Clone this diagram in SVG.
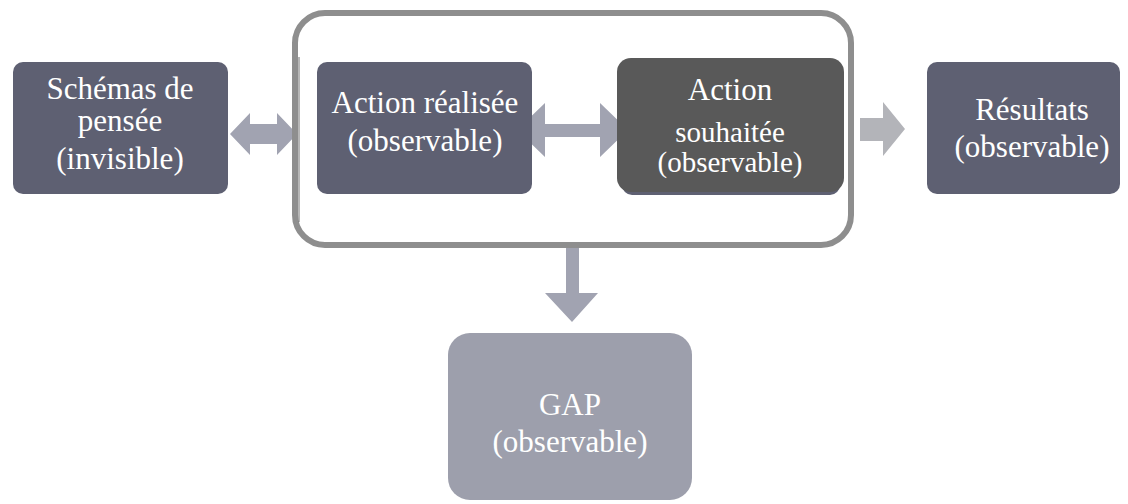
<svg xmlns="http://www.w3.org/2000/svg" width="1128" height="504" viewBox="0 0 1128 504">
  <style>
    .box { fill: #5e6072; }
    .dark { fill: #595959; }
    .gap { fill: #9d9fac; }
    .arrow { fill: #a1a3b1; }
    .arrow-light { fill: #b3b4b9; }
    .frame { fill: none; stroke: #8e8e8e; stroke-width: 6; }
    .label { font-family: "Liberation Serif", "Times New Roman", "DejaVu Serif", serif; fill: #ffffff; text-anchor: middle; font-size: 31px; }
    .small { font-size: 29px; }
  </style>
  <rect width="1128" height="504" fill="#ffffff"/>

  <g id="connectors">
    <!-- double arrow: thought schemas <-> performed action -->
    <polygon class="arrow" points="230,134 250,113 250,124 277,124 277,113 297,134 277,155 277,144 250,144 250,155"/>
    <!-- double arrow: performed action <-> desired action -->
    <polygon class="arrow" points="517,130 545,103 545,124 600,124 600,103 628,130 600,157 600,137 545,137 545,157"/>
    <!-- arrow to results -->
    <polygon class="arrow-light" points="860,118 883,118 883,102 905,129 883,156 883,141 860,141"/>
    <!-- arrow down to the gap -->
    <polygon class="arrow" points="566,243 579,243 579,293 598,293 572,322 545,293 566,293"/>
  </g>

  <!-- frame grouping the two observable actions -->
  <g id="frame">
    <rect class="frame" x="295" y="13" width="556" height="232" rx="30"/>
    <line x1="299" y1="57" x2="299" y2="222" stroke="#6e6e6e" stroke-width="1"/>
  </g>

  <g id="schemas" class="label">
    <rect class="box" x="13" y="62" width="215" height="132" rx="10"/>
    <text x="120" y="99">Schémas de</text>
    <text x="120" y="131">pensée</text>
    <text x="120" y="169">(invisible)</text>
  </g>

  <g id="action-realisee" class="label">
    <rect class="box" x="317" y="62" width="215" height="132" rx="10"/>
    <text x="425" y="113">Action réalisée</text>
    <text x="425" y="151">(observable)</text>
  </g>

  <g id="action-souhaitee" class="label">
    <rect class="box" x="622" y="62" width="218" height="133" rx="10"/>
    <rect class="dark" x="617" y="58" width="227" height="134" rx="14"/>
    <text x="730" y="100">Action</text>
    <text class="small" x="730" y="142">souhaitée</text>
    <text class="small" x="730" y="172">(observable)</text>
  </g>

  <g id="resultats" class="label">
    <rect class="box" x="927" y="62" width="193" height="132" rx="10"/>
    <text x="1032" y="120">Résultats</text>
    <text x="1032" y="157">(observable)</text>
  </g>

  <g id="gap" class="label">
    <rect class="gap" x="448" y="333" width="244" height="167" rx="22"/>
    <text x="570" y="415">GAP</text>
    <text x="570" y="452">(observable)</text>
  </g>
</svg>
